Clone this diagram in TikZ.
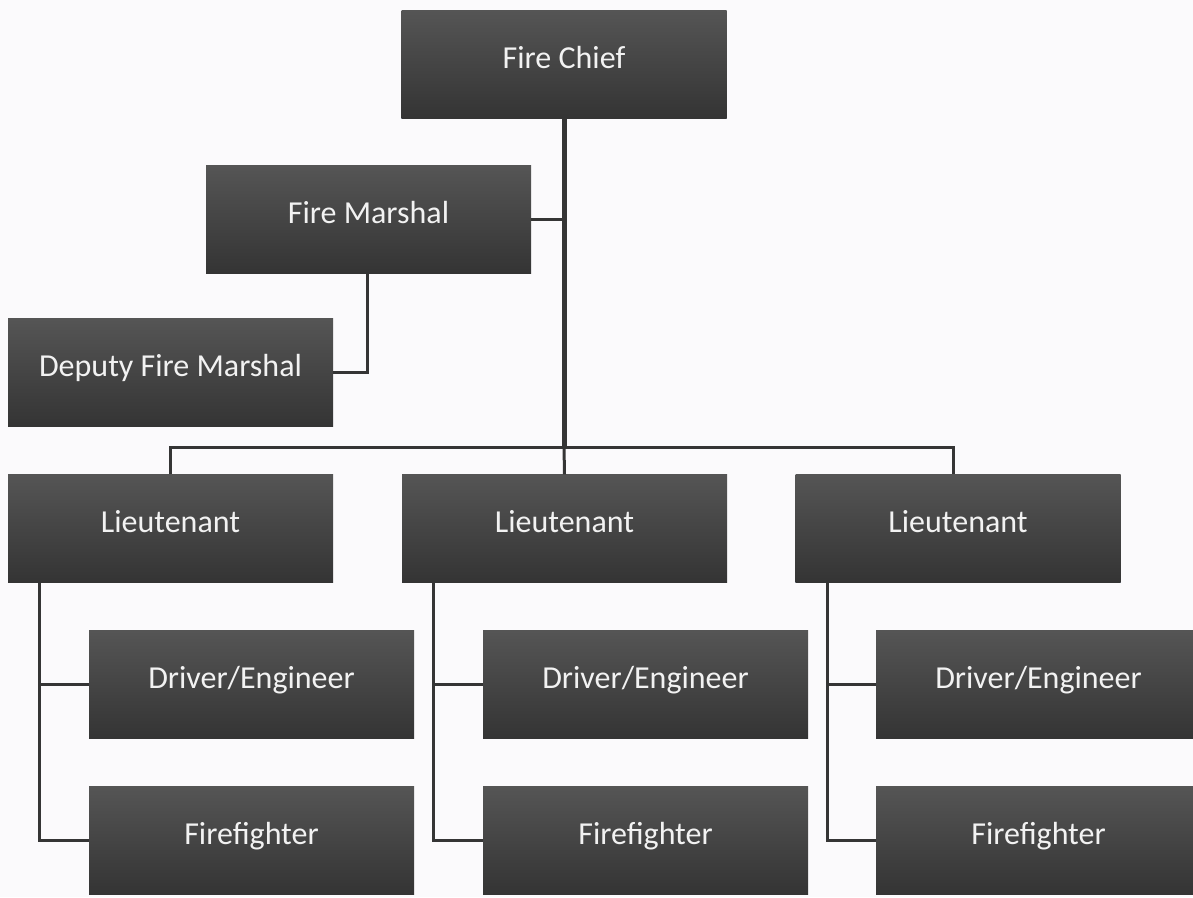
\documentclass[tikz,border=0pt]{standalone}
\usepackage{fontspec}
\setmainfont{Carlito}
\definecolor{boxtop}{HTML}{555555}
\definecolor{boxbot}{HTML}{343434}
\definecolor{linec}{HTML}{353535}
\definecolor{bgc}{HTML}{FBFAFC}
\definecolor{txt}{HTML}{F2F2F2}
\definecolor{edgec}{HTML}{A8B2C4}
\tikzset{
  orgbox/.style={rectangle, minimum width=325pt, minimum height=108pt, inner sep=0pt,
    top color=boxtop, bottom color=boxbot, text=txt,
    font=\fontsize{32}{38}\selectfont, text height=20pt, text depth=12pt,
    append after command={\pgfextra{\draw[edgec, line width=1.2pt]
      (\tikzlastnode.south west) -- (\tikzlastnode.south east);}}},
  trunk/.style={draw=linec, line width=5pt},
  link/.style={draw=linec, line width=3pt}
}
\begin{document}
\begin{tikzpicture}[x=1pt,y=-1pt]
\clip (0,0) rectangle (1193,897);
\fill[bgc] (0,0) rectangle (1193,897);

\node[orgbox] (chief) at (564,64) {Fire Chief};
\node[orgbox] (marshal) at (368.5,219.5) {Fire Marshal};
\node[orgbox] (deputy) at (170.5,372.5) {Deputy Fire Marshal};

\node[orgbox] (lt1) at (170.5,528.5) {Lieutenant};
\node[orgbox] (lt2) at (564.5,528.5) {Lieutenant};
\node[orgbox] (lt3) at (958,528.5) {Lieutenant};

\node[orgbox] (de1) at (251.5,684.5) {Driver/Engineer};
\node[orgbox] (de2) at (645.5,684.5) {Driver/Engineer};
\node[orgbox] (de3) at (1038.5,684.5) {Driver/Engineer};

\node[orgbox] (ff1) at (251.5,840) {Firefighter};
\node[orgbox] (ff2) at (645.5,840) {Firefighter};
\node[orgbox] (ff3) at (1038.5,840) {Firefighter};

\coordinate (busc) at (564,447);

% trunk
\path[trunk] (chief.south) -- (busc);
% marshal
\path[link] (marshal.east) -- (marshal.east -| chief.south);
\path[link] ([xshift=-1pt]marshal.south) |- (deputy.east);
% bus
\path[link] (lt1.north) |- (busc) -| ([xshift=-5pt]lt3.north);
\path[link] (busc) -- (lt2.north);
% lieutenant branches
\foreach \i in {1,2,3}{
  \path[link] ([xshift=32pt]lt\i.south west) |- (de\i.west);
  \path[link] ([xshift=32pt]lt\i.south west) |- (ff\i.west);
}
\end{tikzpicture}
\end{document}
